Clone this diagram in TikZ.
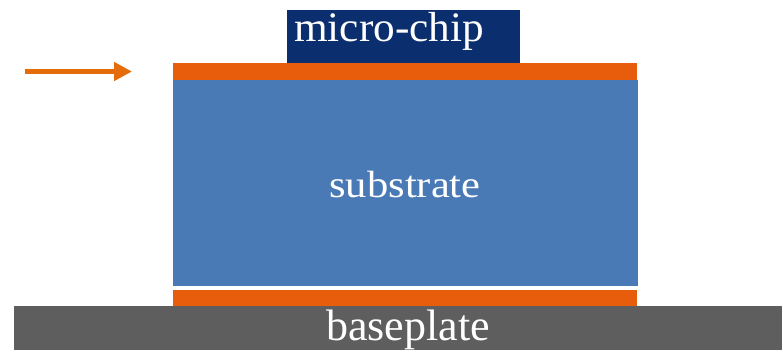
\documentclass[tikz,border=0pt]{standalone}
\usepackage{fontspec}
\setmainfont{Liberation Serif}
\usetikzlibrary{arrows.meta}
\definecolor{chipblue}{HTML}{0B2E6E}
\definecolor{subblue}{HTML}{4A7AB6}
\definecolor{solder}{HTML}{E85D0C}
\definecolor{arroworange}{HTML}{E46C0A}
\definecolor{plategray}{HTML}{5E5E5E}
\tikzset{
  layer/.style={draw=none, inner sep=0pt, outer sep=0pt, anchor=north west},
  lbl/.style={text=white, inner sep=0pt, anchor=base},
}
\begin{document}
\begin{tikzpicture}[x=1pt,y=-1pt]
\useasboundingbox[fill=white] (0,0) rectangle (782,350);
\node[layer, fill=chipblue, minimum width=233pt, minimum height=53pt] (chip) at (287,10) {};
\node[layer, fill=solder, minimum width=464pt, minimum height=17pt] (topsolder) at (173,63) {};
\node[layer, fill=subblue, minimum width=465pt, minimum height=206pt] (substrate) at (173,80) {};
\node[layer, fill=solder, minimum width=464pt, minimum height=16pt] (botsolder) at (173,290) {};
\node[layer, fill=plategray, minimum width=768pt, minimum height=44pt] (baseplate) at (14,306) {};
\node[lbl, anchor=base west, font=\fontsize{42}{42}\selectfont] (chiptext) at (294,42) {\scalebox{1.03}[1]{micro-chip}};
\node[lbl, font=\fontsize{38}{38}\selectfont] (subtext) at (405,197) {\scalebox{1.12}[1]{substrate}};
\node[lbl, font=\fontsize{44}{44}\selectfont] (platetext) at (408,340) {baseplate};
\coordinate (arrowstart) at (25,71.5);
\coordinate (arrowtip) at (132,71.5);
\draw[arroworange, line width=5pt, -{Triangle[length=18pt 0 0,width=18pt 0 0]}] (arrowstart) -- (arrowtip);
\end{tikzpicture}
\end{document}
